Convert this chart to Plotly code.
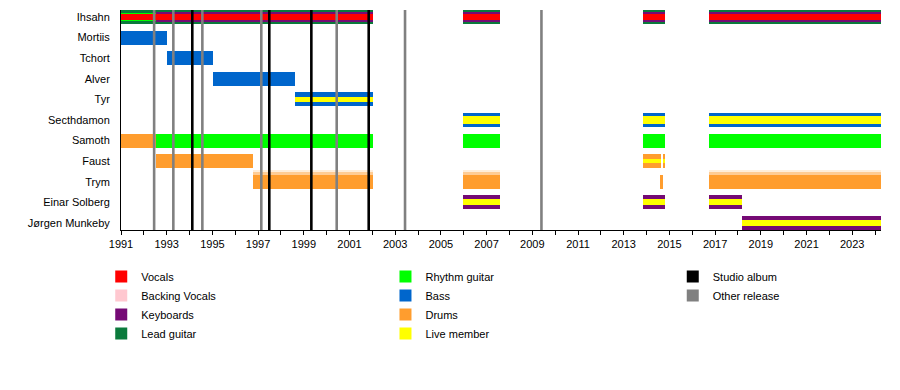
import plotly.graph_objects as go

# ---------------- data ----------------
members = ["Ihsahn", "Mortiis", "Tchort", "Alver", "Tyr", "Secthdamon",
           "Samoth", "Faust", "Trym", "Einar Solberg", "Jørgen Munkeby"]

vocals = [("Ihsahn", 1991.0, 2002.03), ("Ihsahn", 2005.97, 2007.59),
          ("Ihsahn", 2013.84, 2014.81), ("Ihsahn", 2016.73, 2024.26)]
backing_vocals = []
keyboards = [("Ihsahn", 1992.52, 2002.03), ("Ihsahn", 2005.97, 2007.59),
             ("Ihsahn", 2013.84, 2014.81), ("Ihsahn", 2016.73, 2024.26),
             ("Einar Solberg", 2005.97, 2007.59), ("Einar Solberg", 2013.84, 2014.81),
             ("Einar Solberg", 2016.73, 2018.16), ("Jørgen Munkeby", 2018.16, 2024.26)]
lead_guitar = [("Ihsahn", 1991.0, 2002.03), ("Ihsahn", 2005.97, 2007.59),
               ("Ihsahn", 2013.84, 2014.81), ("Ihsahn", 2016.73, 2024.26)]
rhythm_guitar = [("Ihsahn", 1991.0, 1992.52), ("Samoth", 1992.52, 2002.03),
                 ("Samoth", 2005.97, 2007.59), ("Samoth", 2013.84, 2014.81),
                 ("Samoth", 2016.73, 2024.26)]
bass = [("Mortiis", 1991.0, 1993.0), ("Tchort", 1993.0, 1995.01),
        ("Alver", 1995.01, 1998.61), ("Tyr", 1998.61, 2002.03),
        ("Secthdamon", 2005.97, 2007.59), ("Secthdamon", 2013.84, 2014.81),
        ("Secthdamon", 2016.73, 2024.26)]
drums = [("Samoth", 1991.0, 1992.52), ("Faust", 1992.52, 1996.76),
         ("Trym", 1996.76, 2002.03), ("Trym", 2005.97, 2007.59),
         ("Faust", 2013.84, 2014.62), ("Trym", 2014.63, 2014.71),
         ("Faust", 2014.71, 2014.81), ("Trym", 2016.73, 2024.26)]
live_member = [("Tyr", 1998.61, 2002.03),
               ("Secthdamon", 2005.97, 2007.59), ("Secthdamon", 2013.84, 2014.81),
               ("Secthdamon", 2016.73, 2024.26),
               ("Faust", 2013.84, 2014.62), ("Faust", 2014.71, 2014.81),
               ("Einar Solberg", 2005.97, 2007.59), ("Einar Solberg", 2013.84, 2014.81),
               ("Einar Solberg", 2016.73, 2018.16), ("Jørgen Munkeby", 2018.16, 2024.26)]

studio_albums = [1994.12, 1997.49, 1999.33, 2001.84]
other_releases = [1992.45, 1993.29, 1994.56, 1997.14, 2000.44, 2003.43, 2009.40]

year_ticks = list(range(1991, 2024, 2))

# ---------------- styles ----------------
colors = {
    "Vocals": "#FF0000",
    "Backing Vocals": "#FFC8D0",
    "Keyboards": "#750A75",
    "Lead guitar": "#0B7A3C",
    "Rhythm guitar": "#00FF00",
    "Bass": "#0066CC",
    "Drums": "#FF9D2E",
    "Live member": "#FFFF00",
    "Studio album": "#000000",
    "Other release": "#808080",
}
FULL = 0.68


def bar_width(role, member):
    if role == "Vocals":
        return 0.29
    if member == "Ihsahn" and role == "Keyboards":
        return 0.48
    if member == "Ihsahn" and role == "Rhythm guitar":
        return 0.40
    if role == "Live member":
        return {"Tyr": 0.22, "Faust": 0.22, "Secthdamon": 0.40,
                "Einar Solberg": 0.30, "Jørgen Munkeby": 0.32}.get(member, 0.3)
    return FULL


idx = {m: i for i, m in enumerate(members)}
X0, X1 = 1991.0, 2024.26
Y_TOP, Y_BOT = -0.34, len(members) - 1 + 0.34

fig = go.Figure()


def vlines(xs, name, rank):
    xx, yy = [], []
    for v in xs:
        xx += [v, v, None]
        yy += [Y_TOP, Y_BOT, None]
    fig.add_trace(go.Scatter(x=xx, y=yy, mode="lines", showlegend=False,
                             line=dict(color=colors[name], width=2.6),
                             hoverinfo="skip"))
    # legend swatch
    fig.add_trace(go.Bar(x=[None], y=[None], orientation="h", name=name,
                         marker=dict(color=colors[name], line=dict(width=0)),
                         legend="legend3", legendrank=rank))


vlines(other_releases, "Other release", 2)
vlines(studio_albums, "Studio album", 1)


def bars(data, role, legend, rank, show=True):
    fig.add_trace(go.Bar(
        orientation="h",
        y=[idx[m] for m, s, e in data],
        base=[s for m, s, e in data],
        x=[e - s for m, s, e in data],
        width=[bar_width(role, m) for m, s, e in data],
        name=role,
        marker=dict(color=colors[role], line=dict(width=0)),
        legend=legend, legendrank=rank, showlegend=show,
    ))


bars(lead_guitar, "Lead guitar", "legend", 4)
bars(bass, "Bass", "legend2", 2)
bars(drums, "Drums", "legend2", 3)

# soft upper edge on Trym's drum bars
trym_soft = [(m, s, e) for m, s, e in drums if m == "Trym" and e - s > 0.5]
for off, w, col in [(-0.57, 0.12, "#FFEEDA"), (-0.46, 0.12, "#FFCC94")]:
    fig.add_trace(go.Bar(orientation="h",
                         y=[idx[m] for m, s, e in trym_soft],
                         base=[s for m, s, e in trym_soft],
                         x=[e - s for m, s, e in trym_soft],
                         width=w, offset=off, showlegend=False,
                         marker=dict(color=col, line=dict(width=0))))

bars(rhythm_guitar, "Rhythm guitar", "legend2", 1)
bars(keyboards, "Keyboards", "legend", 3)
fig.add_trace(go.Bar(x=[None], y=[None], orientation="h", name="Backing Vocals",
                     marker=dict(color=colors["Backing Vocals"], line=dict(width=0)),
                     legend="legend", legendrank=2))
bars(vocals, "Vocals", "legend", 1)
bars(live_member, "Live member", "legend2", 4)

font = dict(family="Liberation Sans, Arial, sans-serif", size=11, color="#000")
leg_common = dict(font=font, bgcolor="rgba(0,0,0,0)", borderwidth=0,
                  orientation="v", yanchor="top", xanchor="left",
                  traceorder="normal", itemclick=False)

# the page body keeps the browser's default 8px margin, so the figure is
# sized to fit the 900x390 window from that offset
fig.update_layout(
    width=892, height=382,
    margin=dict(l=113, r=19, t=2, b=160, autoexpand=False),
    plot_bgcolor="white", paper_bgcolor="white",
    font=font,
    barmode="overlay",
    bargap=0,
    xaxis=dict(range=[X0, X1], tickvals=year_ticks,
               ticktext=[str(y) for y in year_ticks],
               ticks="outside", ticklen=4, tickcolor="#000", tickwidth=1,
               minor=dict(dtick=1, tick0=1991, ticks="outside", ticklen=4,
                          tickcolor="#000"),
               showline=True, linecolor="#000", linewidth=1,
               showgrid=False, zeroline=False, tickfont=font, automargin=False),
    yaxis=dict(range=[Y_BOT, Y_TOP], tickvals=list(range(len(members))),
               ticktext=members, ticks="", showline=True, linecolor="#000",
               linewidth=1, showgrid=False, zeroline=False, tickfont=font,
               ticklabelstandoff=8, automargin=False),
    legend=dict(x=-0.026, y=-0.146, **leg_common),
    legend2=dict(x=0.348, y=-0.146, **leg_common),
    legend3=dict(x=0.726, y=-0.146, **leg_common),
)

fig.write_html("out.html")
